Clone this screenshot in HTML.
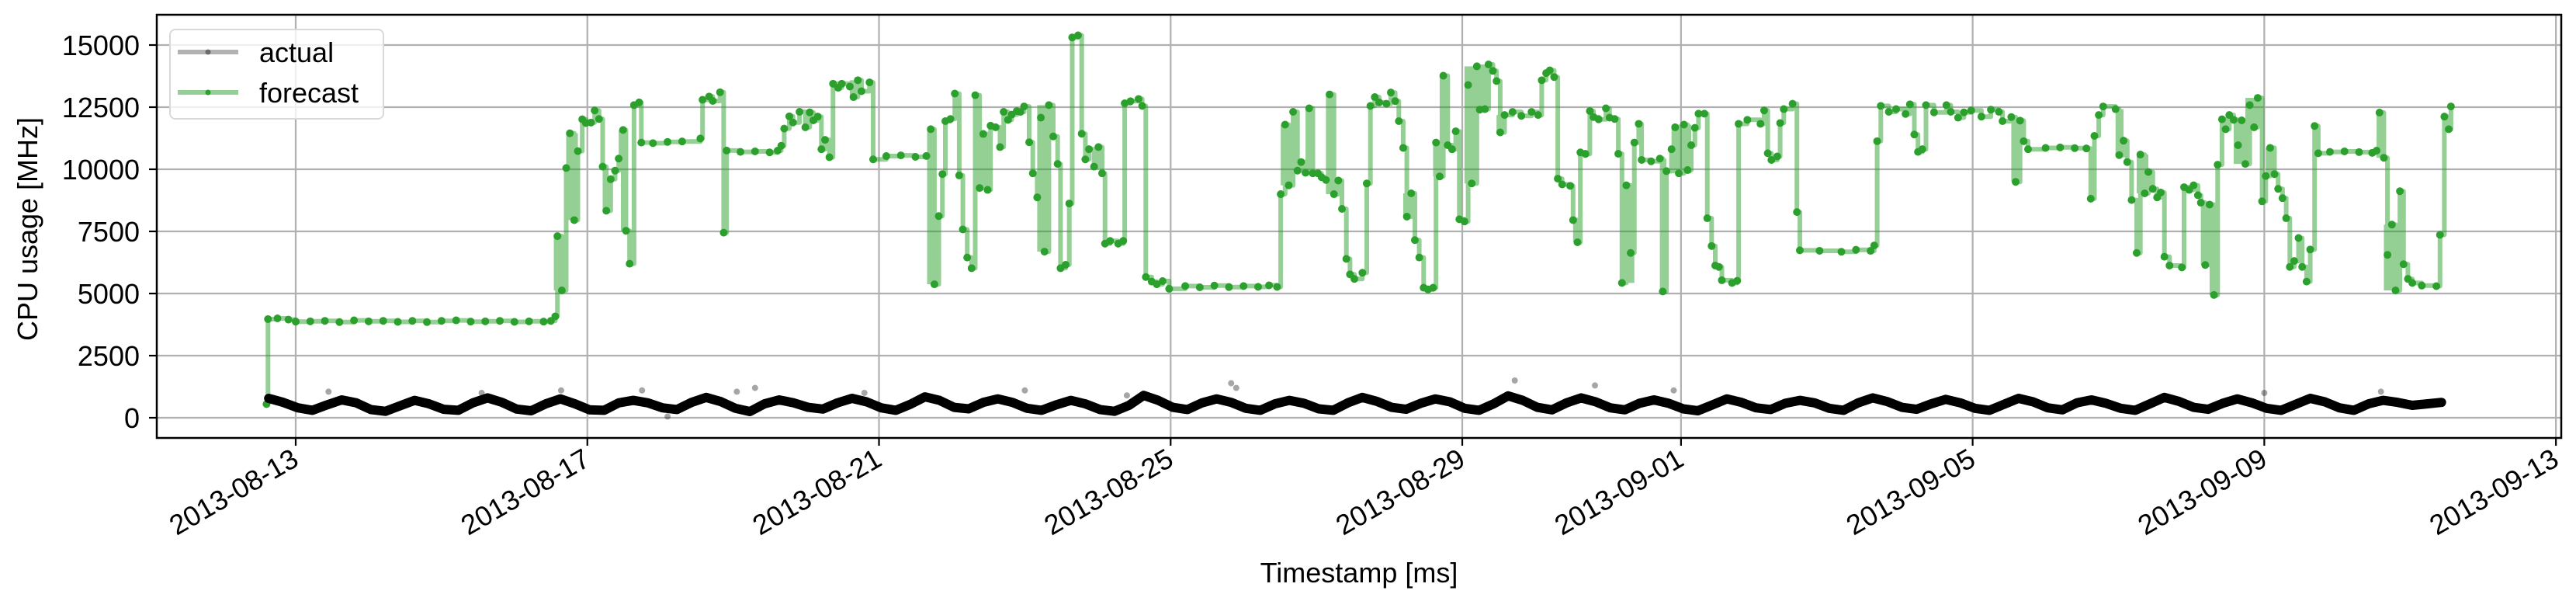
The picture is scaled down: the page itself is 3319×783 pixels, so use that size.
<!DOCTYPE html>
<html><head><meta charset="utf-8"><style>
html,body{margin:0;padding:0;background:#fff;}
svg{display:block;font-family:"Liberation Sans","DejaVu Sans",sans-serif;}
</style></head><body>
<svg id="chart" width="3319" height="783" viewBox="0 0 3319 783" xmlns="http://www.w3.org/2000/svg">
<rect width="3319" height="783" fill="#fff"/>
<g id="grid"></g>
<g id="fc"></g>
<g id="act"></g>
<g id="axes"></g>
<text x="48" y="295" font-size="36" text-anchor="middle" transform="rotate(-90 48 295)">CPU usage [MHz]</text>
<text x="1751" y="750" font-size="36" text-anchor="middle">Timestamp [ms]</text>
<g>
<rect x="219" y="38" width="275" height="115" rx="7" fill="#fff" fill-opacity="0.8" stroke="#d9d9d9" stroke-width="2"/>
<line x1="229" y1="67" x2="307" y2="67" stroke="#000" stroke-opacity="0.3" stroke-width="6"/>
<circle cx="268" cy="67" r="3.5" fill="#000" fill-opacity="0.4"/>
<text x="334" y="80" font-size="36">actual</text>
<line x1="229" y1="119" x2="307" y2="119" stroke="#2ca02c" stroke-opacity="0.5" stroke-width="6"/>
<circle cx="268" cy="119" r="3.5" fill="#2ca02c"/>
<text x="334" y="132" font-size="36">forecast</text>
</g>
</svg>
<script>
const yTicks = [0, 2500, 5000, 7500, 10000, 12500, 15000];
const xTickDays = [1, 5, 9, 13, 17, 20, 24, 28, 32];
const xTickLabels = ["2013-08-13","2013-08-17","2013-08-21","2013-08-25","2013-08-29","2013-09-01","2013-09-05","2013-09-09","2013-09-13"];
const fcT = [0.60,0.62,0.75,0.9,1.0,1.2,1.4,1.6,1.8,2.0,2.2,2.4,2.6,2.8,3.0,3.2,3.4,3.6,3.8,4.0,4.2,4.4,4.5,4.56,4.59,4.65,4.71,4.76,4.82,4.87,4.93,4.98,5.05,5.10,5.16,5.21,5.26,5.32,5.38,5.43,5.49,5.53,5.58,5.64,5.71,5.74,5.9,6.1,6.3,6.55,6.58,6.67,6.72,6.82,6.87,6.91,7.1,7.3,7.5,7.61,7.66,7.70,7.77,7.82,7.91,7.99,8.05,8.10,8.16,8.21,8.26,8.32,8.37,8.44,8.49,8.60,8.65,8.71,8.76,8.87,8.92,9.1,9.3,9.5,9.65,9.71,9.76,9.82,9.87,9.91,9.98,10.04,10.10,10.15,10.21,10.27,10.32,10.38,10.43,10.49,10.53,10.60,10.66,10.71,10.77,10.82,10.89,10.94,10.99,11.06,11.11,11.17,11.22,11.27,11.33,11.39,11.45,11.49,11.56,11.61,11.65,11.73,11.78,11.83,11.88,11.95,12.01,12.06,12.10,12.17,12.28,12.35,12.37,12.45,12.56,12.61,12.66,12.74,12.81,12.89,12.98,13.2,13.4,13.6,13.8,14.0,14.2,14.35,14.46,14.51,14.57,14.62,14.68,14.74,14.79,14.85,14.90,14.95,15.02,15.07,15.13,15.18,15.24,15.30,15.35,15.41,15.46,15.52,15.63,15.69,15.74,15.80,15.86,15.96,16.02,16.08,16.13,16.19,16.24,16.30,16.35,16.41,16.47,16.53,16.60,16.64,16.69,16.74,16.80,16.86,16.91,16.96,17.03,17.08,17.13,17.20,17.24,17.31,17.36,17.42,17.47,17.52,17.58,17.69,17.81,17.95,18.04,18.09,18.15,18.20,18.26,18.31,18.37,18.48,18.52,18.58,18.62,18.69,18.75,18.80,18.87,18.97,19.02,19.09,19.14,19.19,19.25,19.31,19.36,19.42,19.46,19.59,19.71,19.75,19.80,19.87,19.92,19.97,20.04,20.09,20.14,20.19,20.24,20.32,20.36,20.42,20.47,20.52,20.56,20.70,20.77,20.79,20.91,21.09,21.14,21.19,21.24,21.32,21.36,21.41,21.53,21.59,21.63,21.9,22.2,22.4,22.60,22.65,22.69,22.74,22.85,22.95,23.08,23.14,23.20,23.25,23.31,23.36,23.47,23.64,23.70,23.80,23.88,23.98,24.12,24.25,24.36,24.41,24.53,24.59,24.65,24.70,24.76,25.0,25.2,25.4,25.56,25.62,25.67,25.73,25.79,25.96,26.01,26.07,26.12,26.18,26.25,26.30,26.36,26.41,26.47,26.53,26.58,26.63,26.70,26.87,26.90,26.97,27.03,27.09,27.13,27.19,27.25,27.31,27.36,27.42,27.47,27.52,27.58,27.64,27.69,27.74,27.80,27.86,27.91,27.97,28.02,28.08,28.14,28.19,28.25,28.30,28.35,28.41,28.47,28.52,28.58,28.63,28.69,28.74,28.9,29.1,29.3,29.48,29.54,29.58,29.64,29.69,29.75,29.80,29.86,29.91,29.97,30.03,30.16,30.36,30.41,30.47,30.53,30.56];
const fcV = [550,3970,4000,3950,3870,3880,3900,3850,3920,3880,3900,3860,3900,3850,3900,3920,3870,3880,3900,3860,3880,3870,3900,4080,7310,5125,10050,11450,7955,10730,12012,11860,11880,12367,12023,10107,8332,9600,9946,10430,11582,7525,6200,12583,12690,11076,11050,11100,11120,11237,12797,12927,12750,13099,7450,10753,10700,10720,10680,10750,10947,11636,12130,11883,12313,11690,12290,11970,12120,10807,11183,10484,13443,13280,13443,13330,12905,13583,13140,13497,10398,10530,10560,10500,10537,11614,5372,8116,9806,11937,12023,13045,9752,7579,6449,6018,12980,9247,11420,9171,11754,11690,10893,12313,11990,12200,12345,12310,12529,11087,9838,8870,12077,6685,12582,11323,10215,6018,6158,8622,15305,15391,11431,10398,10807,10107,10893,9838,7008,7116,7008,7116,12657,12740,12830,12550,5663,5480,5372,5500,5190,5300,5250,5320,5260,5300,5270,5330,5265,8999,11797,9354,12313,9946,10290,9860,12453,9838,9838,9680,9570,13013,8999,9548,8407,6395,5771,5588,5835,9430,12550,12905,12690,12636,13088,12744,11937,10861,8095,9031,7148,6449,5233,5160,5233,11076,9710,13766,10968,10807,11528,7988,7901,13390,9430,14143,12400,12420,14218,13960,13551,11485,12184,12310,12150,12310,12184,13583,13870,13981,13712,9623,9390,9333,7955,7062,10678,10620,12345,12100,12010,12453,12080,12023,10624,5426,9354,6632,11076,11829,10376,10320,10430,5082,9924,10807,11690,9838,11797,9967,10968,11668,12238,12238,8030,6912,6126,6072,5534,5426,5512,11829,11990,11829,12367,10645,10376,10517,11861,12421,12636,8278,6739,6720,6680,6760,6717,6933,11130,12550,12313,12420,12227,12615,11399,10699,10807,12582,12290,12582,12313,12077,12290,12370,12120,12400,12313,11937,12100,9494,11958,11130,10807,10860,10880,10850,10839,8816,11345,12184,12529,12421,10570,11151,10290,8762,6632,10592,9031,9892,9214,8870,9064,6481,6126,6051,9279,9171,9354,8956,8655,6148,8579,4942,10183,12012,11614,12184,11990,10968,11969,10215,12582,11690,12873,8709,9731,10861,9806,9214,8838,8030,6072,6309,7234,6072,5480,6771,11743,10645,10700,10720,10690,10660,10750,12281,10462,6556,7772,5125,9117,6180,5588,5426,5319,5297,7364,12120,11614,12529];
const bandT0 = [4.54,4.71,5.21,5.43,5.46,5.55,8.60,9.66,10.32,11.17,14.51,14.85,15.13,16.19,16.60,16.69,17.03,17.24,17.47,18.52,19.19,19.71,19.87,24.53,25.96,26.25,27.13,27.25,27.58,27.74,28.02,29.54,29.64];
const bandT1 = [4.65,4.87,5.26,5.49,5.55,5.62,8.71,9.76,10.49,11.33,14.68,14.95,15.24,16.35,16.69,16.80,17.20,17.36,17.58,18.58,19.36,19.80,20.14,24.65,26.07,26.41,27.31,27.31,27.74,27.97,28.14,29.64,29.86];
const bandLo = [5125,7955,8332,10430,7525,6200,12905,5372,9171,6685,9354,9860,8999,8095,9710,10968,9430,12400,11485,7062,5426,5082,9838,9494,10570,9031,6148,4942,10215,11690,9806,10462,5125];
const bandHi = [7310,11450,10107,11582,11582,7525,13583,11614,11420,12582,11797,12453,13013,9031,11076,13766,14143,14218,12184,7955,9354,10430,11797,11958,12421,10592,8655,8579,11969,12873,10861,12281,7772];
const actualStartT = 0.63;
const actualStepT = 0.2;
const actualV = [780,620,400,300,520, 720,600,330,260,480, 700,560,340,300,600, 800,620,350,280,560, 760,560,320,300,600, 700,600,400,330,620, 820,650,380,250,560, 720,600,420,350,600, 780,640,400,300,540, 840,700,420,360,620, 760,620,380,300,520, 700,560,330,260,500, 900,700,420,330,600, 760,620,380,300,560, 700,580,360,300,600, 820,660,420,340,580, 760,640,380,300,560, 880,700,420,320,600, 800,640,400,320,580, 720,580,360,280,520, 760,620,400,330,580, 700,600,380,300,600, 800,650,420,340,560, 740,600,380,300,540, 780,640,400,320,600, 720,580,380,300,560, 820,660,420,340,580, 760,600,380,300,540, 780,640,400,300,560, 700,620,500,560,620, 600];
const outT = [1.45,3.55,4.64,5.75,6.1,7.05,7.3,8.8,11.0,12.4,13.83,13.9,17.72,18.82,19.9,28.0,29.6];
const outV = [1050,1000,1100,1100,50,1050,1200,1000,1100,900,1390,1200,1500,1300,1100,1000,1050];

const NS = "http://www.w3.org/2000/svg";
const L = 202, R = 3300, T = 19, B = 564;
function xOf(t){ return 381 + (t - 1) * 93.94; }
function yOf(v){ return 538 - v / 31.25; }
function mk(tag, attrs, parent){ const e = document.createElementNS(NS, tag); for (const k in attrs) e.setAttribute(k, attrs[k]); parent.appendChild(e); return e; }

const grid = document.getElementById('grid');
const axes = document.getElementById('axes');
yTicks.forEach((v)=>{
  const y = yOf(v);
  const gl = mk('line',{x1:L,x2:R,y1:y,y2:y,stroke:'#b0b0b0','stroke-width':2.2},grid);
  
  
  mk('line',{x1:L-10,x2:L,y1:y,y2:y,stroke:'#000','stroke-width':2.2},axes);
  const tx = mk('text',{x:180,y:y+13,'font-size':36,'text-anchor':'end'},axes);
  tx.textContent = String(v);
  
  
});
xTickDays.forEach((d,i)=>{
  const x = xOf(d);
  const gl = mk('line',{x1:x,x2:x,y1:T,y2:B,stroke:'#b0b0b0','stroke-width':2.2},grid);
  
  
  mk('line',{x1:x,x2:x,y1:B,y2:B+10,stroke:'#000','stroke-width':2.2},axes);
  const tx = mk('text',{x:x+6,y:598,'font-size':36,'text-anchor':'end',transform:`rotate(-30 ${x+6} 598)`},axes);
  tx.textContent = xTickLabels[i];
  
  
});
const frame = mk('rect',{x:L,y:T,width:R-L,height:B-T,fill:'none',stroke:'#000','stroke-width':2.5},axes);



const fc = document.getElementById('fc');
const fcl = document.createElementNS(NS,'g');
fcl.setAttribute('opacity','0.5');
fc.appendChild(fcl);
bandT0.forEach((t0,i)=>{
  const r = mk('rect',{x:xOf(t0),y:yOf(bandHi[i]),width:xOf(bandT1[i])-xOf(t0),height:yOf(bandLo[i])-yOf(bandHi[i]),fill:'#2ca02c'},fcl);
  
  
});
let d = '';
fcT.forEach((t,i)=>{
  const x = xOf(t).toFixed(1), y = yOf(fcV[i]).toFixed(1);
  if (i === 0) d += `M${x},${y}`;
  else d += `L${x},${yOf(fcV[i-1]).toFixed(1)}L${x},${y}`;
});
const pl = mk('path',{d:d,fill:'none',stroke:'#2ca02c','stroke-width':6,'stroke-linejoin':'round'},fcl);


fcT.forEach((t,i)=>{
  const c = mk('circle',{cx:xOf(t),cy:yOf(fcV[i]),r:5,fill:'#2ca02c'},fc);
  
  
});

const act = document.getElementById('act');
const aT = actualV.map((v,i)=>actualStartT + i*actualStepT);
const keep = aT.map((t,i)=>i).filter(i=>aT[i]<=30.57);
const apts = keep.map(i=>xOf(aT[i]).toFixed(1)+','+yOf(actualV[i]).toFixed(1)).join(' ');
const al = mk('polyline',{points:apts,fill:'none',stroke:'#000','stroke-width':12,'stroke-linejoin':'round','stroke-linecap':'round'},act);


outT.forEach((t,i)=>{
  const c = mk('circle',{cx:xOf(t),cy:yOf(outV[i]),r:4,fill:'#000','fill-opacity':0.35},act);
  
  
});
</script>
</body></html>
